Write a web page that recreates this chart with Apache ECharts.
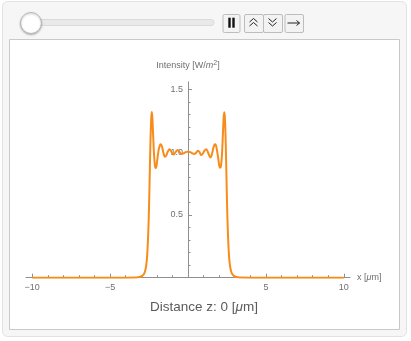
<!DOCTYPE html>
<html><head><meta charset="utf-8">
<script src="https://cdn.jsdelivr.net/npm/echarts@6/dist/echarts.min.js"></script>
<style>html,body{margin:0;padding:0;background:#fff}#c{width:411px;height:341px}</style>
</head><body><div id="c"></div>
<script>
// Position x [μm]
const xPos = [-10, -4, -3.4, -3.2, -3.05, -2.95, -2.85, -2.76, -2.68, -2.62, -2.57, -2.52, -2.48, -2.44, -2.40, -2.36, -2.33, -2.29, -2.24, -2.18, -2.12, -2.08, -2.03, -1.96, -1.88, -1.80, -1.74, -1.67, -1.59, -1.52, -1.47, -1.40, -1.31, -1.23, -1.17, -1.10, -1.02, -0.95, -0.88, -0.78, -0.67, -0.58, -0.48, -0.38, -0.28, -0.15, 0,
  0.15, 0.28, 0.38, 0.48, 0.58, 0.64, 0.74, 0.84, 0.93, 1.05, 1.16, 1.24, 1.34, 1.44, 1.52, 1.62, 1.70, 1.76, 1.84, 1.94, 2.02, 2.07, 2.12, 2.18, 2.24, 2.29, 2.34, 2.37, 2.41, 2.45, 2.49, 2.53, 2.58, 2.63, 2.69, 2.77, 2.86, 2.96, 3.06, 3.2, 3.4, 4, 10];
// Intensity [W/m^2]
const intensity = [0, 0, 0.001, 0.003, 0.007, 0.013, 0.025, 0.05, 0.1, 0.18, 0.3, 0.48, 0.68, 0.92, 1.13, 1.27, 1.32, 1.28, 1.14, 0.98, 0.89, 0.872, 0.885, 0.95, 1.02, 1.056, 1.062, 1.045, 1.0, 0.97, 0.963, 0.972, 1.0, 1.018, 1.022, 1.012, 0.992, 0.982, 0.985, 1.003, 1.016, 1.008, 0.992, 0.985, 0.99, 1.0, 1.003,
  1.0, 0.99, 0.986, 0.99, 1.004, 1.01, 1.0, 0.977, 0.985, 1.01, 1.022, 1.012, 0.98, 0.958, 0.975, 1.03, 1.058, 1.062, 1.03, 0.95, 0.885, 0.876, 0.89, 0.98, 1.14, 1.28, 1.317, 1.27, 1.13, 0.92, 0.68, 0.48, 0.3, 0.18, 0.1, 0.05, 0.025, 0.013, 0.007, 0.003, 0.001, 0, 0];
const xMinorTicks = [-10,-9,-8,-7,-6,-5,-4,-3,-2,-1,1,2,3,4,5,6,7,8,9,10];
const xMajorTicks = [-10,-5,5,10];
const xTickLabels = [-10,-5,5,10];
const yMinorTicks = [0.1,0.2,0.3,0.4,0.5,0.6,0.7,0.8,0.9,1.0,1.1,1.2,1.3,1.4,1.5];
const yMajorTicks = [0.5,1.0,1.5];
const yTickLabels = [0.5,1.0,1.5];
const distanceZ = 0;

const FONT = 'Liberation Sans, Arial, sans-serif';
const AX = '#8f8f8f';
const LAB = '#6f6f6f';
const data = xPos.map((x,i)=>[x,intensity[i]]);
const chart = echarts.init(document.getElementById('c'), null, {renderer:'canvas'});

const GRID_LEFT = 26, GRID_W = 324, X_MIN = -10.4, X_MAX = 10.4;
const Y_OFFSET = -((0 - X_MIN) / (X_MAX - X_MIN) * GRID_W); // put y axis at x = 0

function btn(x1,x2){return {type:'rect',z:-5,shape:{x:x1+0.5,y:14.5,width:x2-x1,height:18,r:1.5},style:{fill:'#f3f3f3',stroke:'#bdbdbd',lineWidth:1}};}
function pl(points){return {type:'polyline',z:-4,shape:{points},style:{stroke:'#222',lineWidth:1,fill:null}};}

chart.setOption({
  animation:false,
  grid:{left:GRID_LEFT,top:81.8,width:GRID_W,height:195.9,outerBoundsMode:'none',containLabel:false},
  xAxis:[{
    type:'value',min:X_MIN,max:X_MAX,
    name:'x [{i|μ}m]',nameLocation:'end',nameGap:7,
    nameTextStyle:{color:LAB,fontSize:9,fontFamily:FONT,rich:{i:{fontStyle:'italic',fontSize:9,color:LAB,fontFamily:FONT}}},
    axisLine:{onZero:false,lineStyle:{color:AX,width:1}},
    axisTick:{show:true,inside:true,length:2.5,customValues:xMinorTicks,lineStyle:{color:AX}},
    axisLabel:{customValues:xTickLabels,margin:5,color:LAB,fontSize:9,fontFamily:FONT,formatter:v=>String(v).replace('-','\u2212')},
    splitLine:{show:false}
  },{
    type:'value',min:X_MIN,max:X_MAX,position:'bottom',offset:0,
    axisLine:{show:false,onZero:false},
    axisTick:{show:true,inside:true,length:4,customValues:xMajorTicks,lineStyle:{color:AX}},
    axisLabel:{show:false},splitLine:{show:false}
  }],
  yAxis:[{
    type:'value',min:0,max:1.56,position:'left',offset:Y_OFFSET,
    name:'Intensity [W/{i|m}{s|2}]',nameLocation:'end',nameGap:11,
    nameTextStyle:{color:LAB,fontSize:9,fontFamily:FONT,align:'center',rich:{i:{fontStyle:'italic',fontSize:9,color:LAB,fontFamily:FONT},s:{fontSize:7,color:LAB,fontFamily:FONT,verticalAlign:'bottom',padding:[0,0,4,0]}}},
    axisLine:{onZero:false,lineStyle:{color:AX,width:1}},
    axisTick:{show:true,inside:true,length:2.5,customValues:yMinorTicks,lineStyle:{color:AX}},
    axisLabel:{customValues:yTickLabels,margin:5,color:LAB,fontSize:9,fontFamily:FONT,formatter:v=>v.toFixed(1)},
    splitLine:{show:false}
  },{
    type:'value',min:0,max:1.56,position:'left',offset:Y_OFFSET,
    axisLine:{show:false,onZero:false},
    axisTick:{show:true,inside:true,length:4,customValues:yMajorTicks,lineStyle:{color:AX}},
    axisLabel:{show:false},splitLine:{show:false}
  }],
  series:[{
    type:'line',xAxisIndex:0,yAxisIndex:0,data,
    showSymbol:false,smooth:0.3,
    lineStyle:{color:'#f78c1a',width:2},
    z:3
  }],
  graphic:[
    {type:'rect',z:-10,shape:{x:2.5,y:1.5,width:404,height:335,r:5},style:{fill:'#f6f6f6',stroke:'#e2e2e2',lineWidth:1}},
    {type:'rect',z:-9,shape:{x:9.5,y:39.5,width:390,height:290},style:{fill:'#ffffff',stroke:'#c9c9c9',lineWidth:1}},
    {type:'rect',z:-8,shape:{x:22,y:19.5,width:192,height:6,r:3},style:{fill:'#e9e9e9',stroke:'#dadada',lineWidth:1}},
    {type:'circle',z:-7,shape:{cx:31,cy:23,r:10.5},style:{fill:'#ffffff',stroke:'#b9b9b9',lineWidth:1,shadowBlur:2,shadowColor:'rgba(0,0,0,0.25)',shadowOffsetY:1}},
    btn(222.5,239.5), btn(244,263), btn(263,282), btn(284.5,303),
    {type:'rect',z:-4,shape:{x:228.3,y:17.7,width:2.4,height:10},style:{fill:'#111'}},
    {type:'rect',z:-4,shape:{x:232.3,y:17.7,width:2.4,height:10},style:{fill:'#111'}},
    pl([[249.5,22],[253.5,18.5],[257.5,22]]), pl([[249.5,26],[253.5,22.5],[257.5,26]]),
    pl([[268.5,18.5],[272.5,22],[276.5,18.5]]), pl([[268.5,22.5],[272.5,26],[276.5,22.5]]),
    pl([[287.5,23],[299.5,23]]), pl([[296.5,20.5],[299.5,23],[296.5,25.5]]),
    {type:'text',z:5,x:204,y:307,style:{text:'Distance z: '+distanceZ+' [{i|μ}m]',fill:'#5a5a5a',fontSize:13.5,fontFamily:FONT,align:'center',verticalAlign:'middle',rich:{i:{fontStyle:'italic',fontSize:13.5,fill:'#5a5a5a',fontFamily:FONT}}}}
  ]
});
</script></body></html>
